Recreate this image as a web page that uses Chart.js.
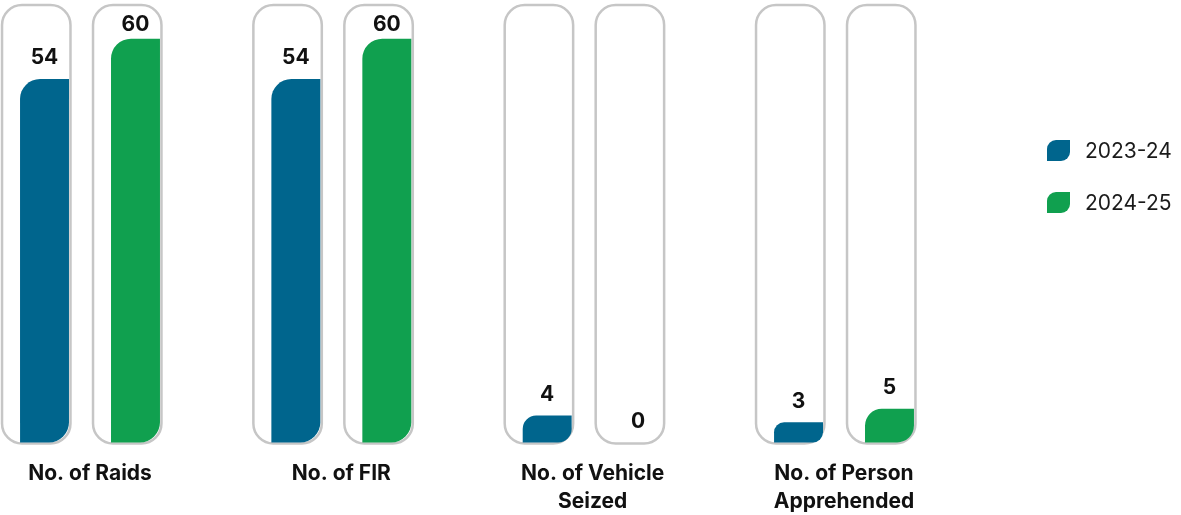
<!DOCTYPE html>
<html>
<head>
<meta charset="utf-8">
<script src="https://cdn.jsdelivr.net/npm/chart.js@4/dist/chart.umd.min.js"></script>
<style>
  html, body { margin: 0; padding: 0; background: #fff; }
</style>
</head>
<body>
<canvas id="grafica" width="1181" height="515"></canvas>
<script>
// categorias y datos
const categorias = ['No. of Raids', 'No. of FIR', ['No. of Vehicle', 'Seized'], ['No. of Person', 'Apprehended']];
const etiquetasSeries = ['2023-24', '2024-25'];
const datos2324 = [54, 54, 4, 3];
const datos2425 = [60, 60, 0, 5];
const maximoPista = 65; // altura del "tubo" gris de fondo

const azul = '#00658d';
const verde = '#10a04f';

Chart.defaults.font.family = 'Inter, "Liberation Sans", sans-serif';
Chart.defaults.color = '#111';

// camino con esquinas redondeadas distintas
function caminoRedondeado(ctx, x, y, w, h, r) {
  ctx.beginPath();
  ctx.moveTo(x + r.tl, y);
  ctx.lineTo(x + w - r.tr, y);
  ctx.arcTo(x + w, y, x + w, y + r.tr, r.tr);
  ctx.lineTo(x + w, y + h - r.br);
  ctx.arcTo(x + w, y + h, x + w - r.br, y + h, r.br);
  ctx.lineTo(x + r.bl, y + h);
  ctx.arcTo(x, y + h, x, y + h - r.bl, r.bl);
  ctx.lineTo(x, y + r.tl);
  ctx.arcTo(x, y, x + r.tl, y, r.tl);
  ctx.closePath();
}

// pistas grises detras de cada barra
const pistas = {
  id: 'pistas',
  beforeDatasetsDraw(chart) {
    const ctx = chart.ctx;
    const yTop = chart.scales.y.getPixelForValue(maximoPista);
    const yBase = chart.scales.y.getPixelForValue(0);
    ctx.save();
    chart.data.datasets.forEach((ds, i) => {
      chart.getDatasetMeta(i).data.forEach(bar => {
        const izq = bar.x - bar.width / 2 - 18;
        const der = bar.x + bar.width / 2 + 1.5;
        caminoRedondeado(ctx, izq, yTop, der - izq, yBase - yTop + 1, {tl: 20, tr: 20, br: 20, bl: 20});
        ctx.fillStyle = '#fff';
        ctx.fill();
        ctx.lineWidth = 2.5;
        ctx.strokeStyle = '#c6c6c6';
        ctx.stroke();
      });
    });
    ctx.restore();
  }
};

// valores encima de las barras
const valores = {
  id: 'valores',
  afterDatasetsDraw(chart) {
    const ctx = chart.ctx;
    const yTop = chart.scales.y.getPixelForValue(maximoPista);
    ctx.save();
    ctx.font = 'bold 21px Inter, "Liberation Sans", sans-serif';
    ctx.fillStyle = '#111';
    ctx.textAlign = 'center';
    ctx.textBaseline = 'middle';
    chart.data.datasets.forEach((ds, i) => {
      chart.getDatasetMeta(i).data.forEach((bar, j) => {
        const y = Math.max(bar.y - 21, yTop + 20);
        ctx.fillText(String(ds.data[j]), bar.x, y);
      });
    });
    ctx.restore();
  }
};

// leyenda a la derecha
const leyenda = {
  id: 'leyenda',
  afterDraw(chart) {
    const ctx = chart.ctx;
    ctx.save();
    chart.data.datasets.forEach((ds, i) => {
      const y = 140 + i * 52;
      caminoRedondeado(ctx, 1047, y, 23, 21, {tl: 9, tr: 0, br: 9, bl: 0});
      ctx.fillStyle = ds.backgroundColor;
      ctx.fill();
      ctx.font = '21px Inter, "Liberation Sans", sans-serif';
      ctx.fillStyle = '#1a1a1a';
      ctx.textAlign = 'left';
      ctx.textBaseline = 'middle';
      ctx.fillText(ds.label, 1085, y + 12);
    });
    ctx.restore();
  }
};

const radio = {topLeft: 20, topRight: 0, bottomRight: 20, bottomLeft: 0};

new Chart(document.querySelector('#grafica'), {
  type: 'bar',
  data: {
    labels: categorias,
    datasets: [
      {
        label: etiquetasSeries[0],
        data: datos2324,
        backgroundColor: azul,
        borderRadius: radio,
        borderSkipped: false,
        clip: false
      },
      {
        label: etiquetasSeries[1],
        data: datos2425,
        backgroundColor: verde,
        borderRadius: radio,
        borderSkipped: false,
        clip: false
      }
    ]
  },
  options: {
    responsive: false,
    devicePixelRatio: 1,
    animation: false,
    categoryPercentage: 0.724,
    barPercentage: 0.538,
    layout: { padding: { left: 90, right: 337, top: 5, bottom: 0 } },
    plugins: {
      legend: { display: false },
      tooltip: { enabled: false }
    },
    scales: {
      x: {
        offset: false,
        grid: { display: false, drawTicks: false },
        border: { display: false },
        afterFit(scale) { scale.height = scale.height - 18; },
        ticks: {
          padding: 18,
          maxRotation: 0,
          autoSkip: false,
          color: '#111',
          font: { size: 21, weight: 'bold', lineHeight: 1.3 }
        }
      },
      y: {
        display: false,
        min: 0,
        max: maximoPista
      }
    }
  },
  plugins: [pistas, valores, leyenda]
});
</script>
</body>
</html>
